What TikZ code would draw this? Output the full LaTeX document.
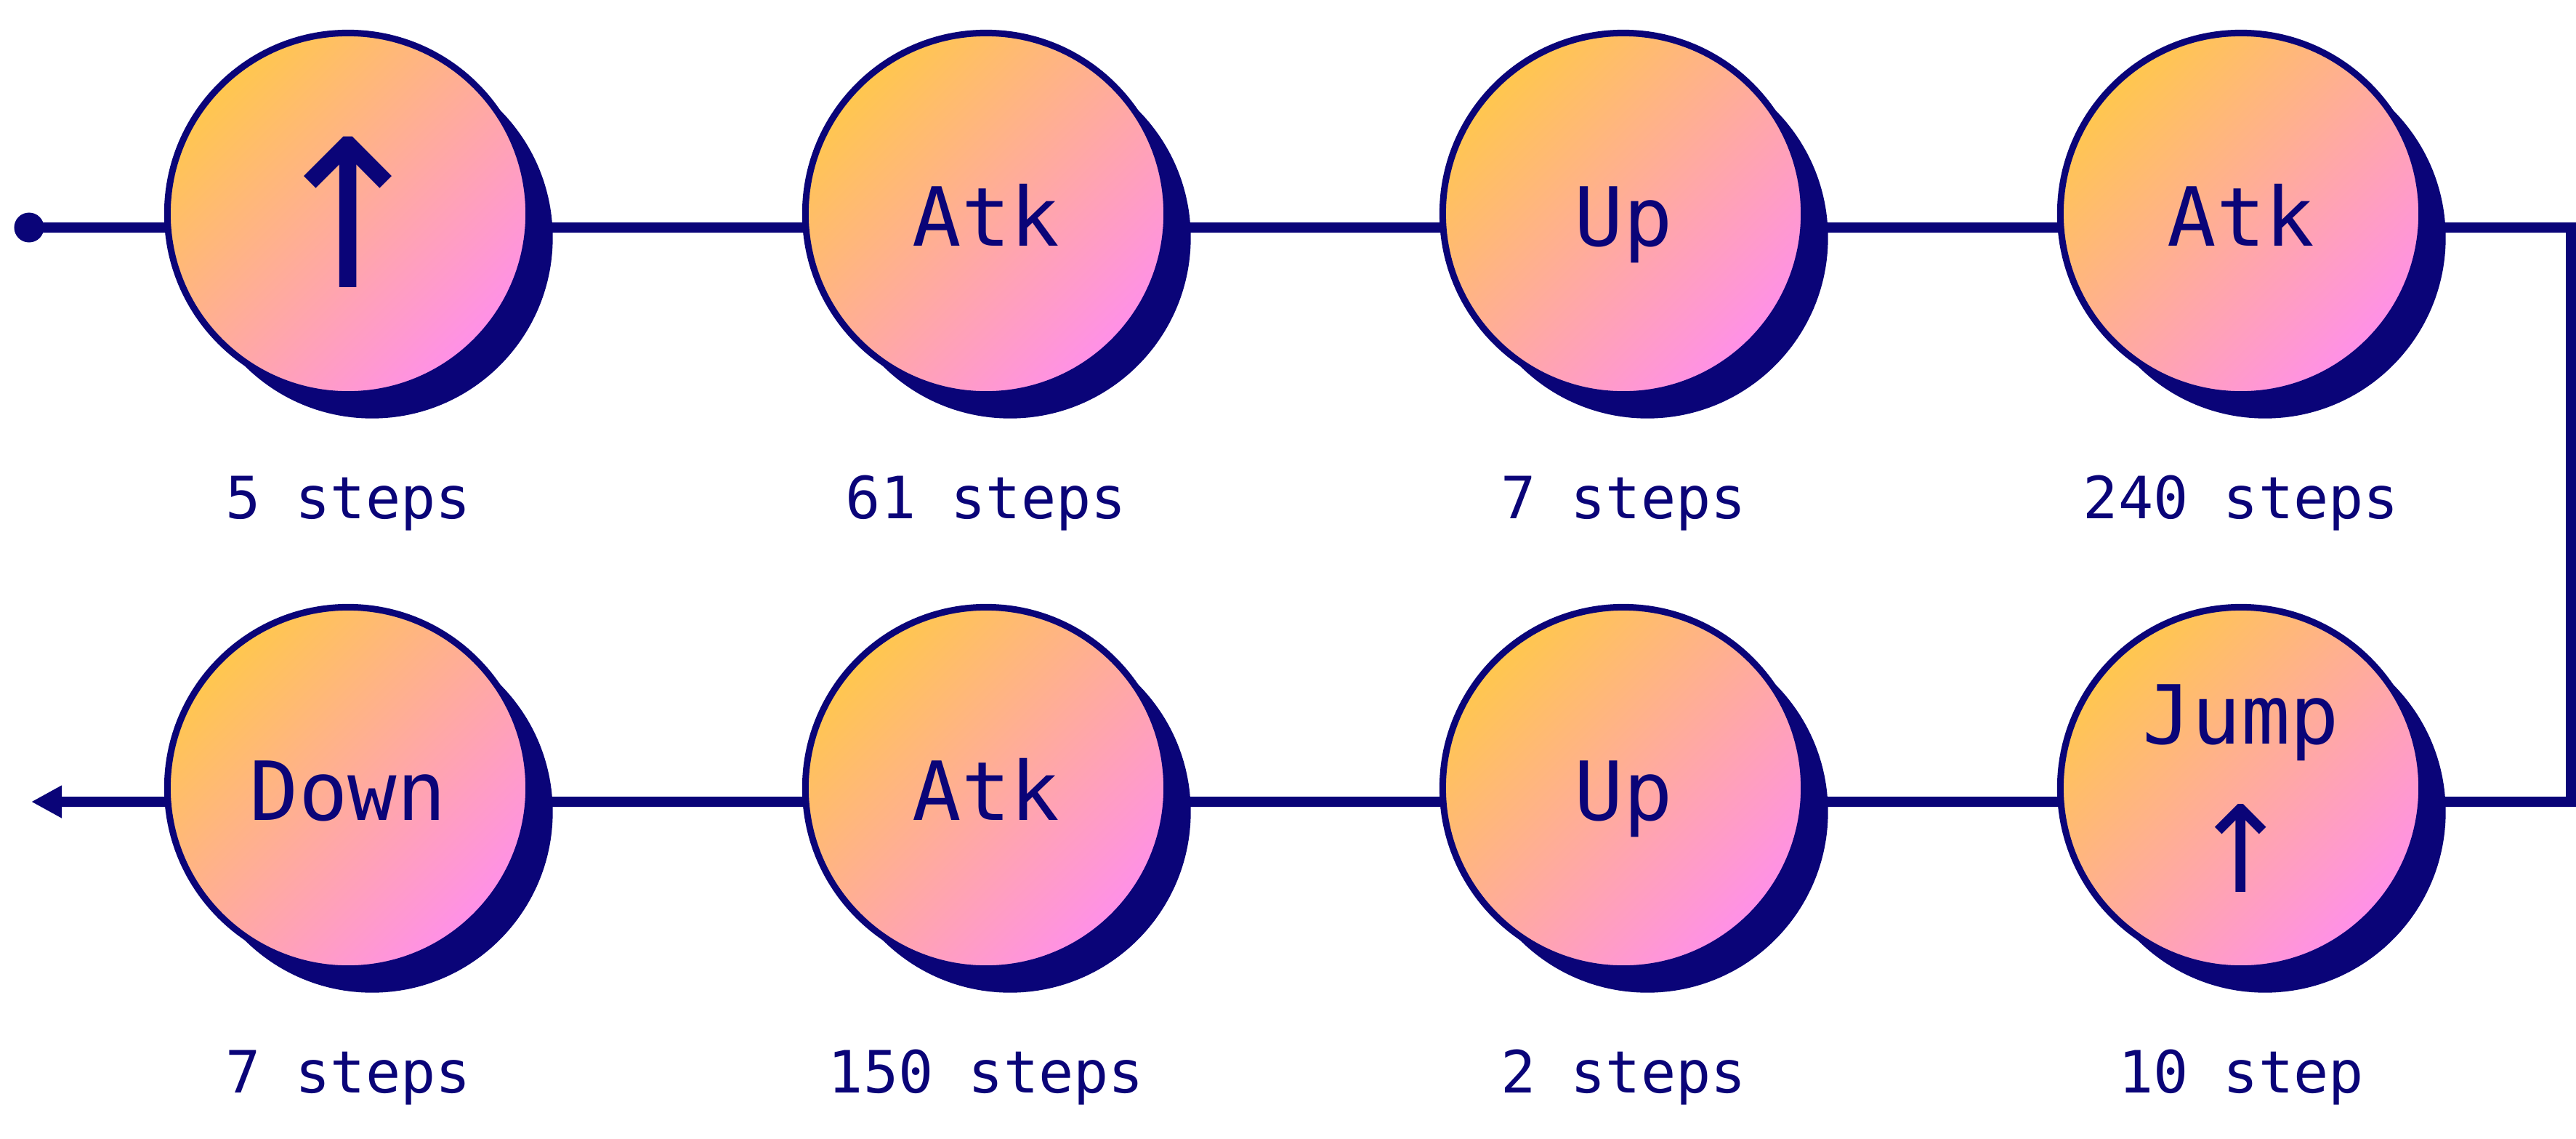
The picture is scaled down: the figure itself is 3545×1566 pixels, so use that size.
\documentclass[tikz,border=0pt]{standalone}
\usepackage{fontspec}
\newfontfamily\mono{DejaVu Sans Mono}
\newfontfamily\arrowfont{DejaVu Sans}
\usetikzlibrary{shadows,backgrounds,arrows.meta}
\definecolor{navy}{RGB}{10,4,120}
\definecolor{gyel}{RGB}{255,199,78}
\definecolor{gpink}{RGB}{255,144,232}
\tikzset{
  stepcircle/.style={circle, minimum size=4.97cm, inner sep=0pt, draw=navy, line width=0.09cm,
    top color=gyel, bottom color=gpink, shading angle=45,
    drop shadow={shadow xshift=0.33cm, shadow yshift=-0.33cm, fill=navy, opacity=1}},
  nametext/.style={font=\mono\fontsize{31.9}{38}\selectfont, text=navy, anchor=base, inner sep=0pt},
  steptext/.style={font=\mono\fontsize{22.8}{27}\selectfont, text=navy, anchor=base, inner sep=0pt},
  bigarrow/.style={font=\arrowfont\fontsize{80.5}{81}\selectfont, text=navy, inner sep=0pt},
  smallarrow/.style={font=\arrowfont\fontsize{47}{47}\selectfont, text=navy, inner sep=0pt},
  conn/.style={draw=navy, line width=0.14cm, line join=miter},
  startdot/.style={circle, fill=navy, minimum size=0.41cm, inner sep=0pt}
}
\begin{document}
\begin{tikzpicture}[x=0.01cm, y=-0.01cm]
\useasboundingbox (0,0) rectangle (3545,1566);
% row 1
\node[stepcircle] (n1) at (479,294) {};
\node[stepcircle] (n2) at (1357,294) {};
\node[stepcircle] (n3) at (2234,294) {};
\node[stepcircle] (n4) at (3084,294) {};
% row 2
\node[stepcircle] (n5) at (3084,1084) {};
\node[stepcircle] (n6) at (2234,1084) {};
\node[stepcircle] (n7) at (1357,1084) {};
\node[stepcircle] (n8) at (479,1084) {};
% texts in circles
\node[bigarrow] (a1) at ([yshift=0.02cm]n1.center) {↑};
\node[nametext] (t2) at ([yshift=-0.44cm]n2.center) {Atk};
\node[nametext] (t3) at ([yshift=-0.44cm]n3.center) {Up};
\node[nametext] (t4) at ([yshift=-0.44cm]n4.center) {Atk};
\node[nametext] (t5) at ([yshift=0.60cm]n5.center) {Jump};
\node[smallarrow] (a5) at ([yshift=-0.83cm]n5.center) {↑};
\node[nametext] (t6) at ([yshift=-0.44cm]n6.center) {Up};
\node[nametext] (t7) at ([yshift=-0.44cm]n7.center) {Atk};
\node[nametext] (t8) at ([yshift=-0.44cm]n8.center) {Down};
% step labels
\node[steptext] (l1) at ([yshift=-4.19cm]n1.center) {5 steps};
\node[steptext] (l2) at ([yshift=-4.19cm]n2.center) {61 steps};
\node[steptext] (l3) at ([yshift=-4.19cm]n3.center) {7 steps};
\node[steptext] (l4) at ([yshift=-4.19cm]n4.center) {240 steps};
\node[steptext] (l5) at ([yshift=-4.19cm]n5.center) {10 step};
\node[steptext] (l6) at ([yshift=-4.19cm]n6.center) {2 steps};
\node[steptext] (l7) at ([yshift=-4.19cm]n7.center) {150 steps};
\node[steptext] (l8) at ([yshift=-4.19cm]n8.center) {7 steps};
% connector
\node[startdot] (start) at (40,313) {};
\coordinate (turnA) at (3538,313);
\coordinate (turnB) at (3538,1103);
\coordinate (finish) at (43,1103);
\begin{scope}[on background layer]
\draw[conn, -{Triangle[length=0.42cm, width=0.42cm]}]
  (start.center) -- ([yshift=-0.19cm]n1.center) -- ([yshift=-0.19cm]n2.center)
  -- ([yshift=-0.19cm]n3.center) -- ([yshift=-0.19cm]n4.center)
  -- (turnA) -- (turnB)
  -- ([yshift=-0.19cm]n5.center) -- ([yshift=-0.19cm]n6.center)
  -- ([yshift=-0.19cm]n7.center) -- ([yshift=-0.19cm]n8.center) -- (finish);
\end{scope}
\end{tikzpicture}
\end{document}
